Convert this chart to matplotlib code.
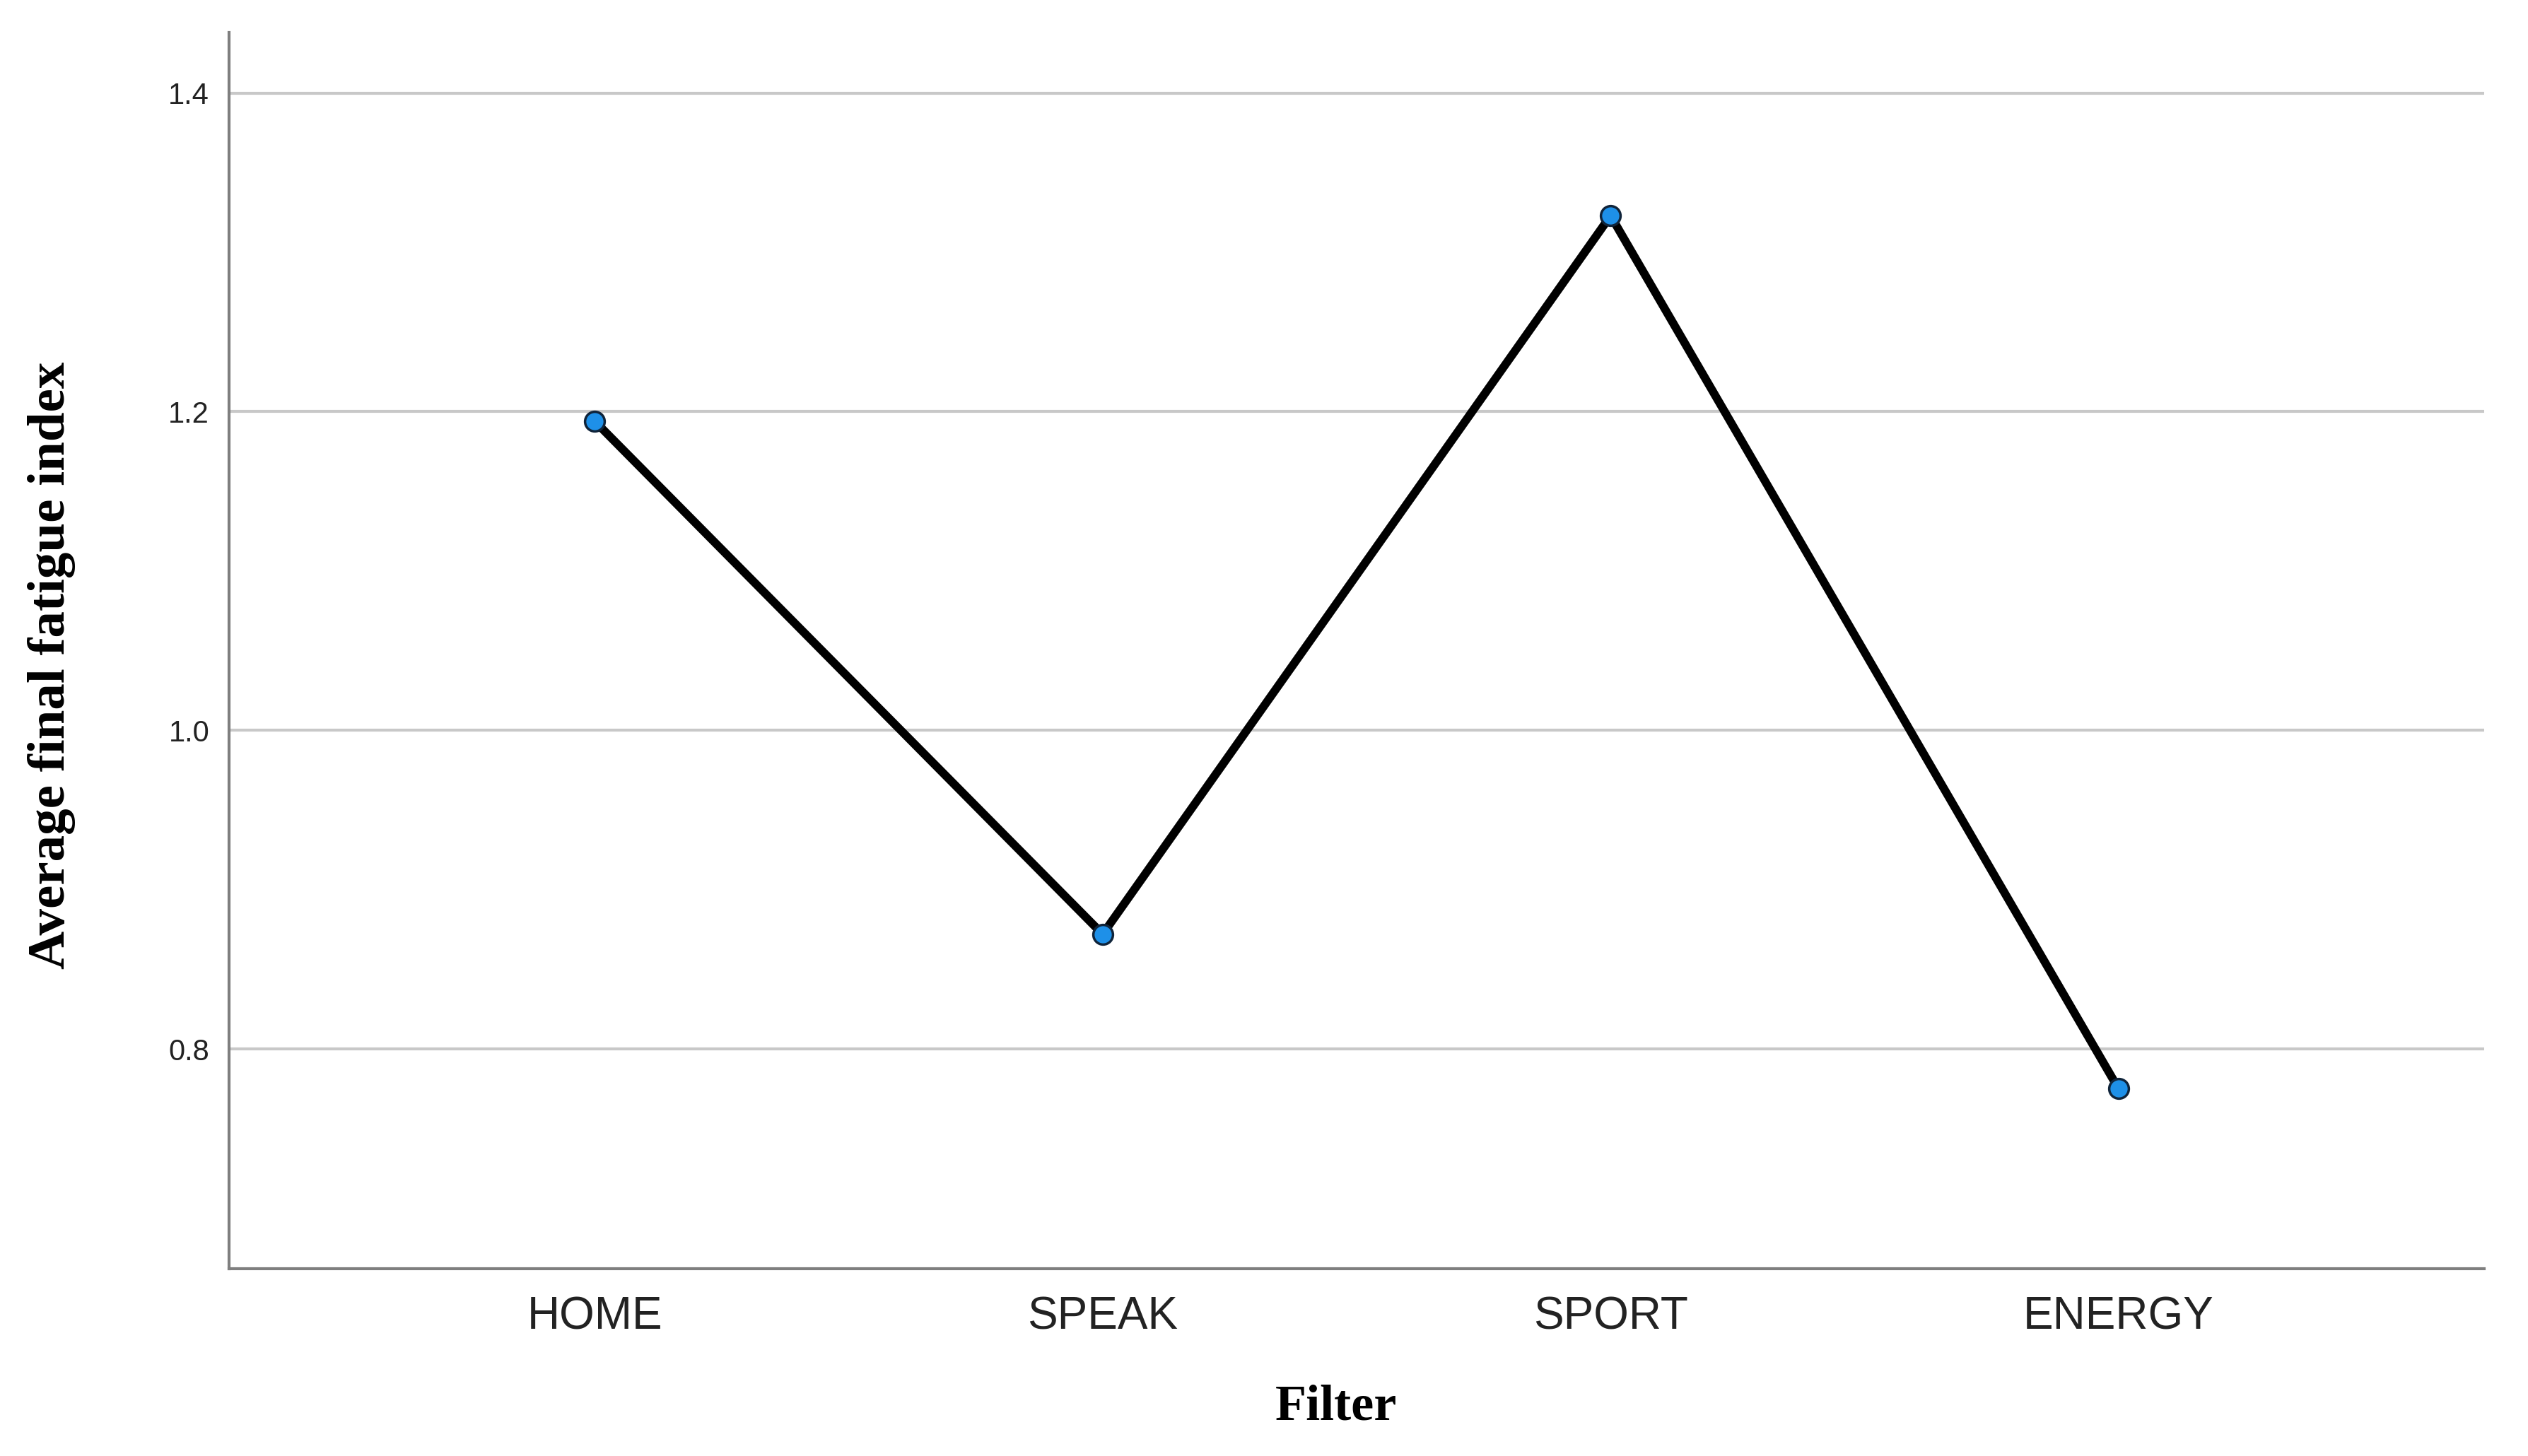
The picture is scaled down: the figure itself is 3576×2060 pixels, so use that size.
import matplotlib
matplotlib.use("Agg")
import matplotlib.pyplot as plt

categories = ["HOME", "SPEAK", "SPORT", "ENERGY"]
values = [1.194, 0.872, 1.323, 0.775]
yticks = [0.8, 1.0, 1.2, 1.4]
ytick_labels = ["0.8", "1.0", "1.2", "1.4"]

fig = plt.figure(figsize=(35.76, 20.60), dpi=100)
ax = fig.add_axes([0.0906, 0.1286, 0.8921, 0.8491])

x = list(range(len(categories)))
ax.plot(x, values, color="black", linewidth=8.5, zorder=3,
        marker="o", markersize=20, markerfacecolor="#1e90e8",
        markeredgecolor="#10243a", markeredgewidth=2.5)

ax.set_xlim(-0.72, 3.72)
ax.set_ylim(0.662, 1.438)
ax.set_yticks(yticks)
ax.set_yticklabels(ytick_labels)
ax.set_xticks(x)
ax.set_xticklabels(categories)

ax.grid(axis="y", color="#c8c8c8", linewidth=3, zorder=1)
ax.set_axisbelow(True)
for s in ["top", "right"]:
    ax.spines[s].set_visible(False)
for s in ["left", "bottom"]:
    ax.spines[s].set_color("#7f7f7f")
    ax.spines[s].set_linewidth(3)

ax.tick_params(axis="y", length=0, pad=20, labelsize=30, labelcolor="#222222")
ax.tick_params(axis="x", length=0, pad=28, labelsize=46, labelcolor="#222222")
for lab in ax.get_xticklabels() + ax.get_yticklabels():
    lab.set_fontfamily("Liberation Sans")

ax.set_xlabel("Filter", fontsize=52, fontweight="bold", family="Liberation Serif")
ax.xaxis.label.set_verticalalignment("center")
ax.xaxis.set_label_coords(0.491, -0.112)
ax.set_ylabel("Average final fatigue index", fontsize=54, fontweight="bold",
              family="Liberation Serif")
ax.yaxis.label.set_verticalalignment("center")
ax.yaxis.set_label_coords(-0.0787, 0.488)

fig.savefig("out.png", dpi=100, facecolor="white")
